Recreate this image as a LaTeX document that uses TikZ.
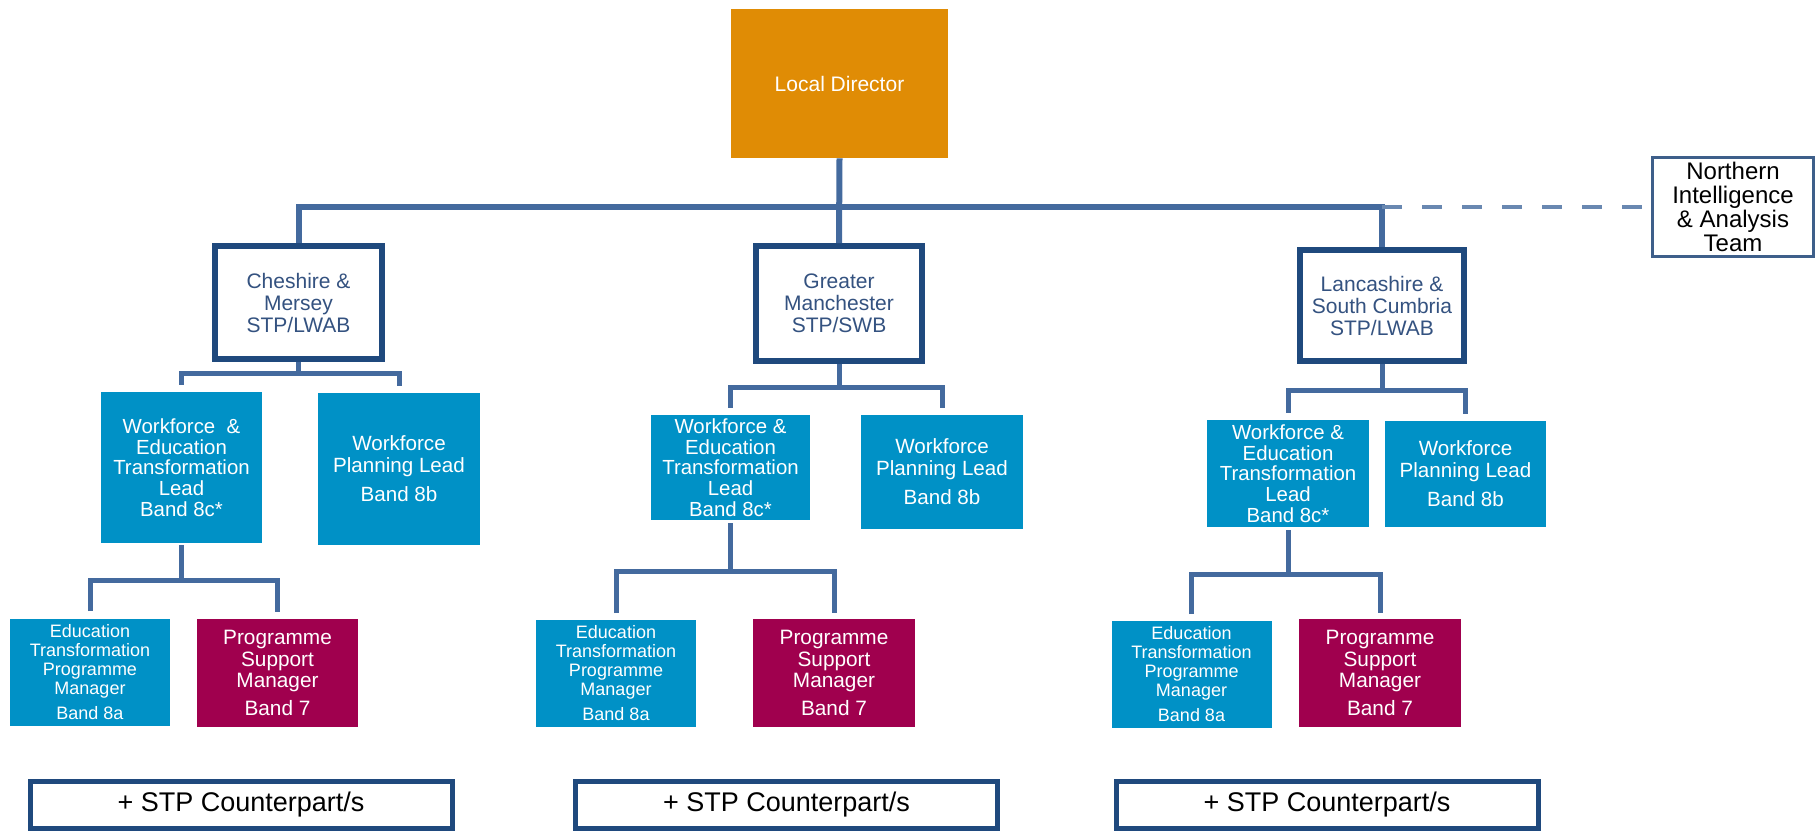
\documentclass[tikz,border=0pt]{standalone}
\usepackage{fontspec}
\setmainfont{Liberation Sans}
\usepackage{tikz}
\usetikzlibrary{calc}

\definecolor{ldorange}{RGB}{224,140,5}
\definecolor{roleblue}{RGB}{0,145,198}
\definecolor{rolered}{RGB}{160,0,78}
\definecolor{boardnavy}{RGB}{31,73,125}
\definecolor{boardtext}{RGB}{52,82,128}
\definecolor{linkblue}{RGB}{68,106,158}
\definecolor{teamblue}{RGB}{62,95,138}

\begin{document}
\begin{tikzpicture}[x=0.5pt,y=-0.5pt,
    board/.style={draw=boardnavy, line width=3pt, fill=white, text=boardtext, align=center,
        inner sep=0pt, font=\fontsize{10.5}{11}\selectfont},
    role/.style={fill=roleblue, text=white, align=center, inner sep=0pt},
    support/.style={fill=rolered, text=white, align=center, inner sep=0pt,
        font=\fontsize{10.4}{10.8}\selectfont, minimum height=54pt},
    lead/.style={role, font=\fontsize{10.2}{10.4}\selectfont},
    planner/.style={role, font=\fontsize{10.3}{10.8}\selectfont},
    progman/.style={role, font=\fontsize{9}{9.5}\selectfont, minimum width=80pt, minimum height=53.5pt},
    stpbox/.style={draw=boardnavy, line width=2.5pt, fill=white, inner sep=0pt,
        minimum width=211pt, minimum height=23.5pt, font=\fontsize{13.5}{14}\selectfont},
    link/.style={draw=linkblue, line width=3pt},
    fork/.style={draw=linkblue, line width=2.5pt}]
\useasboundingbox (0,0) rectangle (1815,832);

% top of the chart
\node[fill=ldorange, text=white, minimum width=108.5pt, minimum height=74.5pt,
    font=\fontsize{10.5}{11}\selectfont] (ld) at (839.5,83.5) {Local Director};
\node[draw=teamblue, line width=1.2pt, fill=white, align=center, inner sep=0pt,
    minimum width=80.5pt, minimum height=49.5pt, font=\fontsize{12}{12}\selectfont]
    (nia) at (1733,207) {Northern\\Intelligence\\\& Analysis\\Team};

% the three boards
\node[board, minimum width=83.5pt, minimum height=56.5pt] (ches) at (298.5,302.5) {Cheshire \&\\Mersey\\STP/LWAB};
\node[board, minimum width=83pt, minimum height=57.5pt] (gm) at (839,303.5) {Greater\\Manchester\\STP/SWB};
\node[board, minimum width=82pt, minimum height=55.5pt] (lsc) at (1382,305.5) {Lancashire \&\\South Cumbria\\STP/LWAB};

% leads
\node[lead, minimum width=80.5pt, minimum height=75.5pt] (chwe) at (181.5,467.5) {Workforce~ \&\\Education\\Transformation\\Lead\\Band 8c*};
\node[planner, minimum width=81pt, minimum height=76pt] (chwp) at (399,469) {Workforce\\Planning Lead\\[4pt]Band 8b};
\node[lead, minimum width=79.5pt, minimum height=52.5pt] (gmwe) at (730.5,467.5) {Workforce \&\\Education\\Transformation\\Lead\\Band 8c*};
\node[planner, minimum width=81pt, minimum height=57pt] (gmwp) at (942,472) {Workforce\\Planning Lead\\[4pt]Band 8b};
\node[lead, minimum width=81pt, minimum height=53.5pt] (lscwe) at (1288,473.5) {Workforce \&\\Education\\Transformation\\Lead\\Band 8c*};
\node[planner, minimum width=80.5pt, minimum height=53pt] (lscwp) at (1465.5,474) {Workforce\\Planning Lead\\[4pt]Band 8b};

% managers
\node[progman] (chep) at (90,672) {Education\\Transformation\\Programme\\Manager\\[3pt]Band 8a};
\node[support, minimum width=80.5pt] (chps) at (277.5,673) {Programme\\Support\\Manager\\[3pt]Band 7};
\node[progman] (gmep) at (616,673) {Education\\Transformation\\Programme\\Manager\\[3pt]Band 8a};
\node[support, minimum width=81pt] (gmps) at (834,673) {Programme\\Support\\Manager\\[3pt]Band 7};
\node[progman] (lscep) at (1191.5,674) {Education\\Transformation\\Programme\\Manager\\[3pt]Band 8a};
\node[support, minimum width=81pt] (lscps) at (1380,673) {Programme\\Support\\Manager\\[3pt]Band 7};

\foreach \n/\cx in {ch/241, gm/786.5, lsc/1327} {
    \node[stpbox] (\n stp) at (\cx,805) {+ STP Counterpart/s};
}

% connectors
\coordinate (topbar) at (0,207);
\coordinate (chbar) at (0,373);
\coordinate (gmbar) at (0,387);
\coordinate (lscbar) at (0,390);
\coordinate (chlow) at (0,580);
\coordinate (gmlow) at (0,571);
\coordinate (lsclow) at (0,574);

\draw[link] (ld.south) -- (gm.north);
\draw[link] (ches.north) |- (lsc.north |- topbar) -- (lsc.north);
\draw[draw=linkblue!80, line width=2pt, dash pattern=on 10pt off 10pt] (lsc.north |- topbar) -- (nia.west);

\draw[fork] (ches.south) -- (ches.south |- chbar);
\draw[fork, shorten <=3.5pt, shorten >=3.5pt] (chwe.north) |- (chwp.north |- chbar) -- (chwp.north);
\draw[fork] (gm.south) -- (gm.south |- gmbar);
\draw[fork, shorten <=3.5pt, shorten >=3.5pt] (gmwe.north) |- (gmwp.north |- gmbar) -- (gmwp.north);
\draw[fork] (lsc.south) -- (lsc.south |- lscbar);
\draw[fork, shorten <=3.5pt, shorten >=3.5pt] (lscwe.north) |- (lscwp.north |- lscbar) -- (lscwp.north);

\draw[fork, shorten <=1pt] (chwe.south) -- (chwe.south |- chlow);
\draw[fork, shorten <=3.5pt, shorten >=3.5pt] (chep.north) |- (chps.north |- chlow) -- (chps.north);
\draw[fork, shorten <=1.5pt] (gmwe.south) -- (gmwe.south |- gmlow);
\draw[fork, shorten <=3pt, shorten >=3pt] (gmep.north) |- (gmps.north |- gmlow) -- (gmps.north);
\draw[fork, shorten <=1.5pt] (lscwe.south) -- (lscwe.south |- lsclow);
\draw[fork, shorten <=3pt, shorten >=3pt] (lscep.north) |- (lscps.north |- lsclow) -- (lscps.north);
\end{tikzpicture}
\end{document}
